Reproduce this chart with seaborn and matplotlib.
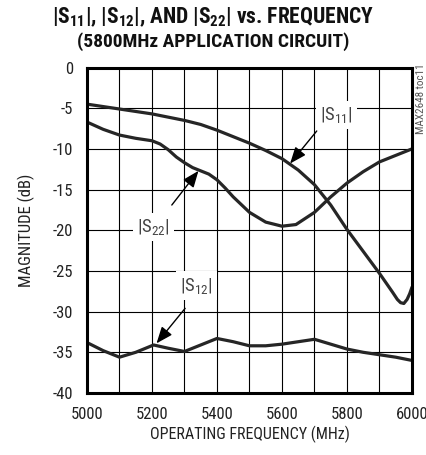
import matplotlib
matplotlib.use("Agg")
import matplotlib.pyplot as plt
from matplotlib import font_manager
import seaborn as sns

# values (MHz, dB)
freq_s11 = [5000, 5100, 5200, 5300, 5350, 5400, 5450, 5500, 5550, 5600, 5650, 5700,
            5750, 5800, 5850, 5900, 5940, 5955, 5965, 5975, 5985, 5993, 6000]
mag_s11 = [-4.5, -5.1, -5.7, -6.5, -7.0, -7.7, -8.5, -9.3, -10.2, -11.2, -12.6, -14.4,
           -16.9, -19.9, -22.6, -25.3, -27.6, -28.5, -28.9, -29.0, -28.5, -27.8, -27.0]

freq_s22 = [5000, 5050, 5100, 5150, 5200, 5225, 5250, 5275, 5300, 5325, 5350, 5375,
            5400, 5425, 5450, 5500, 5550, 5600, 5643, 5700, 5750, 5800, 5850, 5900,
            5950, 6000]
mag_s22 = [-6.7, -7.6, -8.3, -8.7, -9.0, -9.4, -10.1, -11.0, -11.7, -12.3, -12.7, -13.1,
           -13.8, -14.8, -15.9, -17.8, -19.0, -19.5, -19.3, -17.8, -15.9, -14.2, -12.8,
           -11.6, -10.8, -10.0]

freq_s12 = [5000, 5050, 5100, 5150, 5205, 5250, 5300, 5350, 5400, 5450, 5500,
            5550, 5600, 5650, 5700, 5750, 5800, 5850, 5900, 5950, 6000]
mag_s12 = [-33.8, -34.8, -35.6, -35.0, -34.1, -34.5, -34.9, -34.1, -33.3, -33.7, -34.2,
           -34.2, -34.0, -33.7, -33.4, -34.0, -34.6, -35.0, -35.3, -35.6, -36.0]

x_ticks = [5000, 5200, 5400, 5600, 5800, 6000]
y_ticks = [0, -5, -10, -15, -20, -25, -30, -35, -40]

# curve labels: subscript, label position, arrow start, arrow tip
labels = [
    ("11", (5768, -5.8), (5707, -7.8), (5625, -11.8)),
    ("22", (5204, -19.6), (5261, -16.9), (5343, -12.7)),
    ("12", (5338, -26.8), (5302, -29.6), (5214, -33.9)),
]


def pick_narrow_font():
    """Find a condensed sans family if one is installed."""
    fonts = font_manager.fontManager.ttflist
    names = {f.name for f in fonts}
    for name in ["Liberation Sans Narrow", "Arial Narrow", "Roboto Condensed",
                 "Open Sans Condensed"]:
        if name in names:
            return name, "normal"
    for f in fonts:
        if f.name == "DejaVu Sans" and str(f.stretch) in ("condensed", "semi-condensed", "600"):
            return "DejaVu Sans", "condensed"
    for f in fonts:
        if "Condensed" in f.name or "Narrow" in f.name:
            return f.name, "normal"
    return "Liberation Sans", "normal"


sns.set_style("white")
family, stretch = pick_narrow_font()
plt.rcParams['font.family'] = [family, 'DejaVu Sans']
plt.rcParams['font.stretch'] = stretch
mt = family + (":condensed" if stretch == "condensed" else "")
plt.rcParams['mathtext.fontset'] = 'custom'
plt.rcParams['mathtext.rm'] = mt
plt.rcParams['mathtext.bf'] = mt + ":bold"

fig = plt.figure(figsize=(4.27, 4.55), dpi=100)
ax = fig.add_axes([0.2037, 0.1363, 0.7611, 0.7153])

line_col = "#262626"
for fx, my in [(freq_s11, mag_s11), (freq_s22, mag_s22), (freq_s12, mag_s12)]:
    sns.lineplot(x=fx, y=my, ax=ax, color=line_col, linewidth=2.3)

ax.set_xlim(5000, 6000)
ax.set_ylim(-40, 0)
ax.set_xticks(range(5000, 6001, 100))
ax.set_yticks(range(-40, 1, 5))
ax.set_xticklabels([str(v) if v in x_ticks else "" for v in range(5000, 6001, 100)])
ax.set_yticklabels([str(v) if v in y_ticks else "" for v in range(-40, 1, 5)])
ax.grid(True, color="black", linewidth=0.8)
ax.tick_params(length=0, labelsize=12, colors="#222222")
ax.tick_params(axis="x", pad=10)
ax.tick_params(axis="y", pad=10)
for s in ax.spines.values():
    s.set_linewidth(2.2)
    s.set_color("black")

ax.set_xlabel("OPERATING FREQUENCY (MHz)", fontsize=11.5, color="#222222", labelpad=3)
ax.set_ylabel("MAGNITUDE (dB)", fontsize=12, color="#222222", labelpad=13)

for sub, pos, start, tip in labels:
    ax.text(pos[0], pos[1], r"$\mathrm{|S_{%s}|}$" % sub, fontsize=13.5, color="#444444",
            ha="center", va="center",
            bbox=dict(facecolor="white", edgecolor="none", pad=3), zorder=5)
    ax.annotate("", xy=tip, xytext=start, zorder=6,
                arrowprops=dict(arrowstyle="-|>,head_length=1.0,head_width=0.4",
                                color="black", lw=1.0, shrinkA=0, shrinkB=0))

title_1 = (r"$\mathbf{|S_{11}|}$, $\mathbf{|S_{12}|}$, AND "
           r"$\mathbf{|S_{22}|}$ vs. FREQUENCY")
fig.text(0.5, 1 - 17 / 455, title_1, ha="center", va="center",
         fontsize=15.5, fontweight="bold", color="#111111")
fig.text(0.5, 1 - 42 / 455, "(5800MHz APPLICATION CIRCUIT)", ha="center", va="center",
         fontsize=14, fontweight="bold", color="#111111")
fig.text(0.985, 0.86, "MAX2648 toc11", rotation=90, ha="center", va="top",
         fontsize=8, color="#555555")

fig.savefig("out.png", dpi=100)
